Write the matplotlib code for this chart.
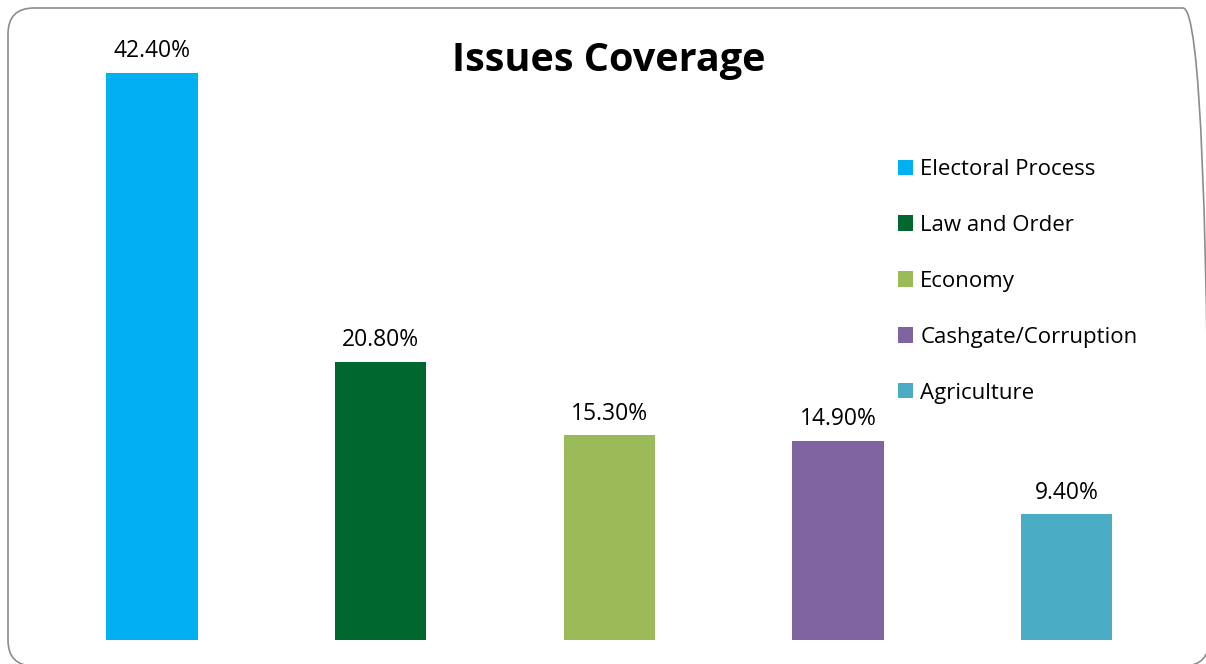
import matplotlib
matplotlib.use('Agg')
from matplotlib import pyplot as plt
from matplotlib.patches import FancyBboxPatch

issues = ['Electoral Process', 'Law and Order', 'Economy', 'Cashgate/Corruption', 'Agriculture']
coverage = [42.4, 20.8, 15.3, 14.9, 9.4]
colors = ['#00B0F0', '#00682F', '#9BBB59', '#8064A2', '#4BACC6']

plt.rcParams['font.family'] = ['Open Sans', 'DejaVu Sans']

W, H = 1206, 664
fig = plt.figure(figsize=(W / 100, H / 100), dpi=100)

# rounded chart border, drawn on a full-figure axes in pixel units
bg = fig.add_axes([0, 0, 1, 1], zorder=-1)
bg.set_xlim(0, W)
bg.set_ylim(0, H)
bg.axis('off')
bg.add_patch(FancyBboxPatch((8, -2), 1201, 658,
                            boxstyle='round,pad=0,rounding_size=26',
                            fill=False, edgecolor='#8c8c8c', linewidth=1.2,
                            clip_on=False))

ax = fig.add_axes([37.6 / W, (H - 640) / H, (1181 - 37.6) / W, (640 - 38) / H])
x = range(len(issues))
bars = ax.bar(x, coverage, width=0.4, color=colors, label=issues)
ax.set_xlim(-0.5, 4.5)
ax.set_ylim(0, 45)
ax.axis('off')

for b, v in zip(bars, coverage):  # value labels
    ax.annotate('%.2f%%' % v, (b.get_x() + b.get_width() / 2, b.get_height()),
                ha='center', va='bottom', xytext=(0, 7), textcoords='offset points',
                fontsize=16.5)

fig.text(609 / W, 1 - 60 / H, 'Issues Coverage', ha='center', va='center',
         fontsize=28.5, fontweight='bold')

ax.legend(bars, issues, loc='upper left', bbox_to_anchor=(878 / W, 1 - 139 / H),
          bbox_transform=fig.transFigure, frameon=False, fontsize=16,
          handlelength=0.68, handleheight=0.68, handletextpad=0.32, labelspacing=1.57)

plt.savefig('out.png', dpi=100)
